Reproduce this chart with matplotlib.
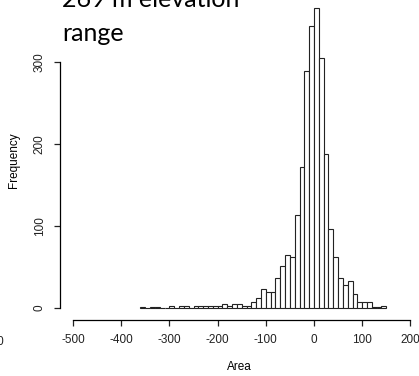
import matplotlib
matplotlib.use('Agg')
import matplotlib.pyplot as plt
import numpy as np

# bin left edges (width 10) and counts
bin_left = list(range(-360, 150, 10))
counts = [1, 0, 1, 1, 0, 0, 2, 0, 2, 2,
          0, 3, 2, 3, 3, 3, 2, 5, 2, 5,
          5, 3, 2, 7, 12, 23, 19, 19, 36, 51,
          65, 62, 113, 172, 289, 343, 366, 304, 188, 96,
          62, 37, 28, 33, 17, 7, 7, 7, 1, 1, 2]
bin_width = 10

x_ticks = [-500, -400, -300, -200, -100, 0, 100, 200]
y_ticks = [0, 100, 200, 300]

W, H = 419, 376
fig = plt.figure(figsize=(W / 100, H / 100), dpi=100)

# plot region as R would lay it out (top is cropped off the image)
left_px, bottom_px = 59.5, 320
ax = fig.add_axes([left_px / W, 1 - bottom_px / H, 1 - left_px / W, bottom_px / H])
ax.set_xlim(-528, 217.8)
ax.set_ylim(-14.6, 375.2)

ax.bar(bin_left, counts, width=bin_width, align='edge',
       facecolor='white', edgecolor='#222222', linewidth=0.8)

for s in ['top', 'right']:
    ax.spines[s].set_visible(False)
ax.spines['left'].set_bounds(0, 300)
ax.spines['bottom'].set_bounds(-500, 200)
ax.spines['left'].set_linewidth(0.9)
ax.spines['bottom'].set_linewidth(0.9)

ax.set_xticks(x_ticks)
ax.set_xticklabels([str(v) for v in x_ticks])
ax.set_yticks(y_ticks)
ax.set_yticklabels([str(v) for v in y_ticks], rotation=90, va='center')
ax.tick_params(length=4.5, width=0.9, labelsize=8.5, pad=5.5, colors='#222222')
for lab in ax.get_xticklabels() + ax.get_yticklabels():
    lab.set_family('Liberation Sans')

ax.set_xlabel('Area', fontsize=8.5, family='Liberation Sans', labelpad=11)
ax.set_ylabel('Frequency', fontsize=8.5, family='Liberation Sans', labelpad=10)

# overlaid annotation text
fig.text(62 / W, 1 - 7 / H, '269 m elevation', fontsize=18, family='Lato',
         va='baseline', ha='left')
fig.text(62 / W, 1 - 41 / H, 'range', fontsize=18, family='Lato',
         va='baseline', ha='left')

# clipped tick label of the neighbouring panel
fig.text(4.5 / W, 1 - 345 / H, '200', fontsize=8.5, family='Liberation Sans',
         ha='right', va='baseline', color='#222222')

fig.savefig('out.png', dpi=100)
